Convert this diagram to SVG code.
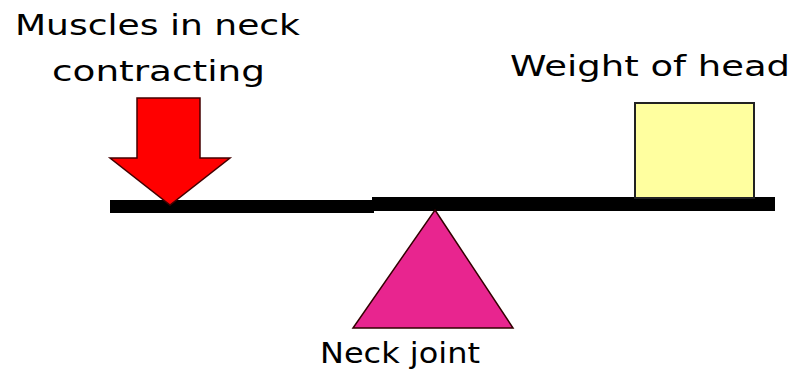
<svg xmlns="http://www.w3.org/2000/svg" width="799" height="373" viewBox="0 0 799 373">
<style>
.lbl{font-family:"DejaVu Sans","Liberation Sans",sans-serif;font-size:28px;fill:#000}
.beam{fill:#000}
</style>
<rect width="799" height="373" fill="#fff"/>
<g id="beam">
<rect class="beam" x="110" y="200" width="264" height="13"/>
<rect class="beam" x="372" y="197" width="403" height="14"/>
</g>
<g id="muscles">
<polygon points="137,98 200,98 200,158 230,158 170,205 110,158 137,158" fill="#f00" stroke="#400" stroke-width="1.5"/>
<text class="lbl" x="15" y="35" textLength="285" lengthAdjust="spacingAndGlyphs">Muscles in neck</text>
<text class="lbl" x="52" y="81" textLength="213" lengthAdjust="spacingAndGlyphs">contracting</text>
</g>
<g id="head">
<rect x="635" y="103" width="119" height="95" fill="#ffff9f" stroke="#222" stroke-width="2"/>
<text class="lbl" x="510" y="76" textLength="280" lengthAdjust="spacingAndGlyphs">Weight of head</text>
</g>
<g id="joint">
<polygon points="435,210 513,328 353,328" fill="#e8258f" stroke="#300" stroke-width="1.5"/>
<text class="lbl" x="320" y="363" textLength="160" lengthAdjust="spacingAndGlyphs">Neck joint</text>
</g>
<g id="connectors"></g>
</svg>
